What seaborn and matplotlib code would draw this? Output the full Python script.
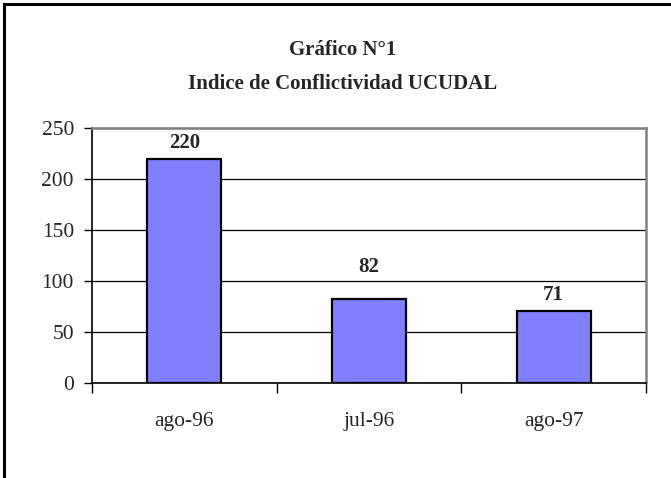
import matplotlib
matplotlib.use("Agg")
from matplotlib import pyplot as plt
from matplotlib.patches import Rectangle
import seaborn as sns
import pandas as pd

# Datos del gráfico
periodos = ["ago-96", "jul-96", "ago-97"]
indice = [220, 82, 71]
y_ticks = [0, 50, 100, 150, 200, 250]
# separación de la etiqueta sobre cada barra (pt), como en el original
separacion = [4, 16, 4]

sns.set_style("white")
plt.rcParams['font.family'] = ['Liberation Serif', 'DejaVu Serif']

df = pd.DataFrame({"periodo": periodos, "indice": indice})

fig = plt.figure(figsize=(6.71, 4.78), dpi=100)
ax = fig.add_axes([92 / 671, 1 - 383 / 478, (646 - 92) / 671, (383 - 128) / 478])

sns.barplot(data=df, x="periodo", y="indice", order=periodos, color="#8080FF",
            saturation=1, edgecolor="black", linewidth=1.6, width=0.4, ax=ax, zorder=3)

# Etiquetas de valor
for barra, valor, sep in zip(ax.patches, indice, separacion):
    ax.annotate(str(valor), (barra.get_x() + barra.get_width() / 2, barra.get_height()),
                xytext=(0, sep), textcoords="offset points", ha="center", va="bottom",
                fontsize=15, fontweight="bold")

ax.set_ylim(0, 250)
ax.set_xlim(-0.5, len(periodos) - 0.5)
ax.set_yticks(y_ticks)
ax.set_yticklabels([str(v) for v in y_ticks], fontsize=15.5)
ax.yaxis.grid(True, color="black", linewidth=0.9, zorder=0)
ax.set_axisbelow(True)

# Marcas del eje x entre categorías
ax.set_xticks(range(len(periodos)))
ax.set_xticklabels(periodos, fontsize=15.5)
ax.set_xticks([i - 0.5 for i in range(len(periodos) + 1)], minor=True)
ax.tick_params(axis="x", which="major", length=0, pad=21)
ax.tick_params(axis="x", which="minor", length=7.5, width=1, color="black", direction="out", bottom=True)
ax.tick_params(axis="y", which="major", length=6, width=1, color="black", direction="out", pad=7, left=True)

ax.set_xlabel("")
ax.set_ylabel("")

for s in ["top", "right"]:
    ax.spines[s].set_color("#808080")
    ax.spines[s].set_linewidth(1.8)
for s in ["left", "bottom"]:
    ax.spines[s].set_color("black")
    ax.spines[s].set_linewidth(1.2)

# Título
fig.text(0.51, 1 - 50 / 478, "Gráfico N°1", ha="center", va="center",
         fontsize=15, fontweight="bold")
fig.text(0.51, 1 - 84 / 478, "Indice de Conflictividad UCUDAL", ha="center", va="center",
         fontsize=15, fontweight="bold")

# Marco del gráfico
fig.patches.append(Rectangle((4 / 671, -0.1), 1.2, 1 + 0.1 - 4 / 478, transform=fig.transFigure,
                             fill=False, edgecolor="black", linewidth=2.2))

fig.savefig("out.png", dpi=100, facecolor="white")
